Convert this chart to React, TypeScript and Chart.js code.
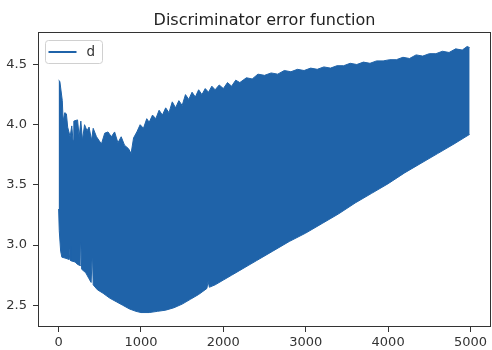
import React, { useEffect, useRef } from "react";
import { Chart, registerables } from "chart.js";

Chart.register(...registerables);

const TITLE = "Discriminator error function";
const SERIES_LABEL = "d";
const X_TICKS = [0, 1000, 2000, 3000, 4000, 5000];
const Y_TICKS = [2.5, 3.0, 3.5, 4.0, 4.5];
const X_MIN = -250;
const X_MAX = 5249;
const Y_MIN = 2.32;
const Y_MAX = 4.77;

// Upper envelope of the oscillating "d" curve
const upperX = [0, 15, 30, 45, 55, 75, 95, 110, 140, 160, 175, 185, 230, 250, 270, 290, 315, 345, 370, 400, 420, 460, 490, 520, 560, 600, 640, 680, 720, 760, 800, 850, 880, 910, 950, 990, 1030, 1070, 1100, 1140, 1180, 1220, 1260, 1300, 1340, 1380, 1420, 1460, 1500, 1540, 1580, 1620, 1660, 1700, 1740, 1780, 1820, 1860, 1900, 1950, 2000, 2050, 2100, 2150, 2200, 2280, 2350, 2420, 2500, 2580, 2660, 2740, 2820, 2900, 2980, 3060, 3140, 3220, 3300, 3380, 3460, 3540, 3620, 3700, 3780, 3860, 3940, 4020, 4100, 4180, 4260, 4340, 4420, 4500, 4580, 4660, 4740, 4820, 4900, 4960, 4990];
const upperY = [4.37, 4.36, 4.28, 4.2, 4.03, 4.1, 4.09, 3.98, 3.9, 3.99, 3.87, 4.03, 4.04, 3.9, 4.03, 3.87, 4.0, 3.95, 3.98, 3.87, 3.97, 3.9, 3.87, 3.84, 3.93, 3.94, 3.9, 3.94, 3.85, 3.9, 3.83, 3.8, 3.76, 3.89, 3.94, 4.0, 3.97, 4.05, 4.02, 4.08, 4.05, 4.12, 4.08, 4.14, 4.1, 4.19, 4.14, 4.2, 4.16, 4.25, 4.21, 4.27, 4.23, 4.29, 4.25, 4.3, 4.27, 4.32, 4.29, 4.33, 4.3, 4.35, 4.32, 4.37, 4.35, 4.39, 4.38, 4.42, 4.41, 4.43, 4.42, 4.45, 4.44, 4.46, 4.45, 4.47, 4.46, 4.48, 4.47, 4.49, 4.49, 4.51, 4.5, 4.52, 4.51, 4.53, 4.53, 4.54, 4.54, 4.56, 4.55, 4.58, 4.57, 4.59, 4.59, 4.61, 4.6, 4.63, 4.62, 4.65, 4.64];

// Lower envelope of the oscillating "d" curve
const lowerX = [0, 8, 25, 40, 90, 130, 140, 150, 200, 230, 260, 270, 280, 330, 370, 395, 410, 420, 470, 540, 620, 700, 780, 860, 940, 1000, 1100, 1200, 1300, 1400, 1500, 1600, 1700, 1800, 1815, 1830, 1900, 2000, 2100, 2200, 2300, 2400, 2600, 2800, 3000, 3200, 3400, 3600, 3800, 4000, 4200, 4400, 4600, 4800, 4990];
const lowerY = [3.3, 3.12, 2.95, 2.9, 2.89, 2.88, 2.99, 2.87, 2.86, 2.84, 2.83, 3.02, 2.8, 2.77, 2.72, 2.69, 2.95, 2.67, 2.63, 2.6, 2.56, 2.53, 2.5, 2.47, 2.45, 2.44, 2.44, 2.45, 2.46, 2.48, 2.51, 2.55, 2.59, 2.64, 2.7, 2.65, 2.67, 2.71, 2.75, 2.79, 2.83, 2.87, 2.95, 3.03, 3.1, 3.18, 3.26, 3.35, 3.43, 3.51, 3.6, 3.68, 3.76, 3.84, 3.92];

const BLUE = "#1f63a9";
const TEXT = "#333333";
const FONT = "DejaVu Sans";

const overlay = {
  id: "mplOverlay",
  afterDraw(chart: any) {
    const { ctx, chartArea } = chart;
    const { left, top, right, bottom } = chartArea;
    ctx.save();
    // frame
    ctx.strokeStyle = "#333333";
    ctx.lineWidth = 1;
    ctx.strokeRect(Math.round(left) + 0.5, Math.round(top) + 0.5, Math.round(right - left) - 1, Math.round(bottom - top) - 1);
    // title
    ctx.fillStyle = "#222222";
    ctx.font = `16px "${FONT}"`;
    ctx.textAlign = "center";
    ctx.textBaseline = "alphabetic";
    ctx.fillText(TITLE, (left + right) / 2, top - 7);
    // legend box
    const bx = left + 7.5, by = top + 8.5, bw = 57, bh = 23, r = 3;
    ctx.beginPath();
    ctx.moveTo(bx + r, by);
    ctx.lineTo(bx + bw - r, by);
    ctx.arcTo(bx + bw, by, bx + bw, by + r, r);
    ctx.lineTo(bx + bw, by + bh - r);
    ctx.arcTo(bx + bw, by + bh, bx + bw - r, by + bh, r);
    ctx.lineTo(bx + r, by + bh);
    ctx.arcTo(bx, by + bh, bx, by + bh - r, r);
    ctx.lineTo(bx, by + r);
    ctx.arcTo(bx, by, bx + r, by, r);
    ctx.closePath();
    ctx.fillStyle = "rgba(255,255,255,0.8)";
    ctx.fill();
    ctx.strokeStyle = "#d0d0d0";
    ctx.stroke();
    ctx.strokeStyle = BLUE;
    ctx.lineWidth = 2;
    ctx.beginPath();
    ctx.moveTo(bx + 3, by + 11.5);
    ctx.lineTo(bx + 31, by + 11.5);
    ctx.stroke();
    ctx.fillStyle = TEXT;
    ctx.font = `13.5px "${FONT}"`;
    ctx.textAlign = "left";
    ctx.textBaseline = "middle";
    ctx.fillText(SERIES_LABEL, bx + 41, by + 12);
    ctx.restore();
  },
};

export default function App() {
  const ref = useRef<HTMLCanvasElement | null>(null);
  useEffect(() => {
    if (!ref.current) return;
    const upper = upperX.map((x, i) => ({ x, y: upperY[i] }));
    const lower = lowerX.map((x, i) => ({ x, y: lowerY[i] }));
    const chart = new Chart(ref.current, {
      type: "line",
      data: {
        datasets: [
          {
            label: "_lower",
            data: lower,
            borderColor: BLUE,
            borderWidth: 1,
            pointRadius: 0,
            tension: 0,
            fill: false,
          },
          {
            label: SERIES_LABEL,
            data: upper,
            borderColor: BLUE,
            backgroundColor: BLUE,
            borderWidth: 1,
            pointRadius: 0,
            tension: 0,
            fill: "-1",
          },
        ],
      },
      options: {
        responsive: false,
        animation: false,
        devicePixelRatio: 1,
        layout: { padding: { top: 32, right: 1, left: 0, bottom: 0 } },
        plugins: {
          legend: { display: false },
          tooltip: { enabled: false },
          title: { display: false },
        },
        scales: {
          x: {
            type: "linear",
            min: X_MIN,
            max: X_MAX,
            afterBuildTicks: (s: any) => {
              s.ticks = X_TICKS.map((v) => ({ value: v }));
            },
            afterFit: (s: any) => {
              s.height = 23;
            },
            grid: { drawOnChartArea: false, drawTicks: true, tickLength: 5, tickColor: "#333333" },
            border: { display: false },
            ticks: {
              color: TEXT,
              font: { family: FONT, size: 13 },
              padding: 3,
              maxRotation: 0,
              autoSkip: false,
              callback: (v: any) => String(v),
            },
          },
          y: {
            type: "linear",
            min: Y_MIN,
            max: Y_MAX,
            afterBuildTicks: (s: any) => {
              s.ticks = Y_TICKS.map((v) => ({ value: v }));
            },
            afterFit: (s: any) => {
              s.width = 38;
            },
            grid: { drawOnChartArea: false, drawTicks: true, tickLength: 5, tickColor: "#333333" },
            border: { display: false },
            ticks: {
              color: TEXT,
              font: { family: FONT, size: 13 },
              padding: 6,
              autoSkip: false,
              callback: (v: any) => Number(v).toFixed(1),
            },
          },
        },
      },
      plugins: [overlay],
    });
    return () => chart.destroy();
  }, []);
  return (
    <div style={{ position: "absolute", left: 0, top: 0, width: 492, height: 350, background: "#fff" }}>
      <canvas ref={ref} width={492} height={350} style={{ display: "block" }} />
    </div>
  );
}
